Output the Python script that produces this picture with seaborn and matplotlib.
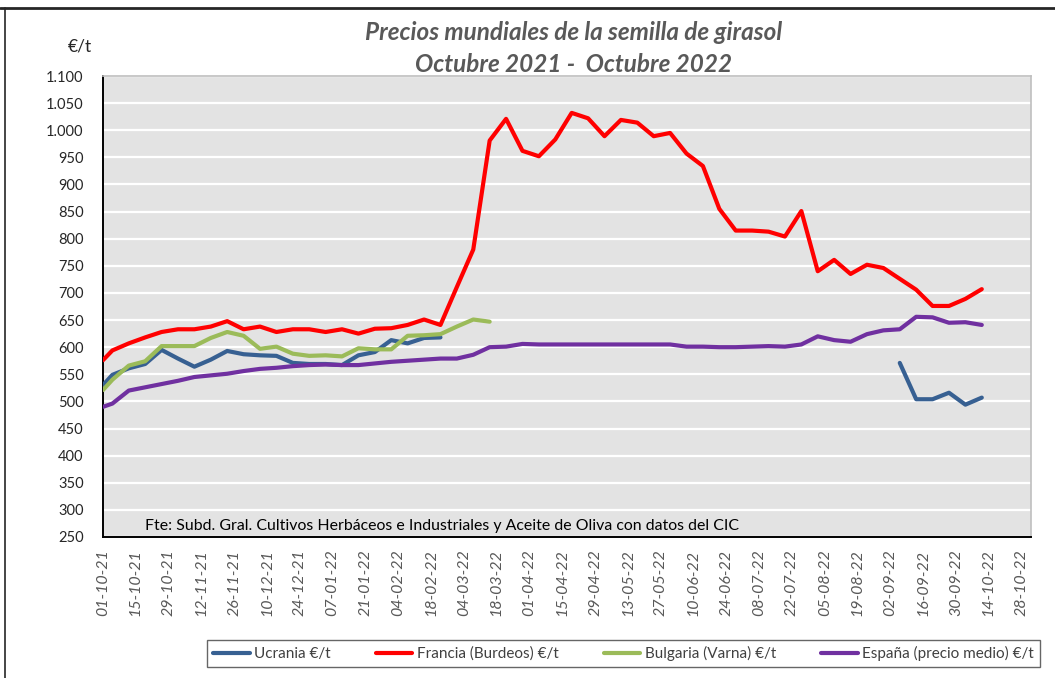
import matplotlib
matplotlib.use("Agg")
import matplotlib.pyplot as plt
from matplotlib.lines import Line2D
import numpy as np
import pandas as pd
import seaborn as sns

# datos semanales (primer punto 01-10-21, luego martes)
fechas = [pd.Timestamp("2021-10-01")] + list(pd.date_range("2021-10-05", periods=54, freq="7D"))

ucrania = [530, 549, 561, 569, 595, 579, 564, 577, 593, 587, 585, 584, 571, 569, 569, 567,
           585, 591, 613, 607, 617, 618] + [np.nan] * 27 + [571, 504, 504, 516, 494, 507]
francia = [576, 594, 607, 618, 628, 633, 633, 638, 648, 633, 638, 628, 633, 633, 628, 633,
           625, 634, 635, 641, 651, 641, 711, 780, 981, 1021, 962, 952, 983, 1032, 1022, 989,
           1019, 1014, 989, 995, 957, 934, 855, 815, 815, 813, 804, 851, 740, 761, 735, 752,
           746, 726, 706, 676, 676, 689, 707]
bulgaria = [521, 540, 566, 574, 602, 602, 602, 617, 628, 621, 597, 601, 588, 584, 585, 583,
            598, 596, 596, 621, 622, 624, 638, 651, 647] + [np.nan] * 30
espana = [490, 496, 520, 526, 532, 538, 545, 548, 551, 556, 560, 562, 565, 567, 568, 567,
          567, 570, 573, 575, 577, 579, 579, 586, 600, 601, 606, 605, 605, 605, 605, 605,
          605, 605, 605, 605, 601, 601, 600, 600, 601, 602, 601, 605, 620, 613, 610, 624,
          631, 633, 656, 655, 645, 646, 641]

series = ["Ucrania €/t", "Francia (Burdeos) €/t", "Bulgaria (Varna) €/t", "España (precio medio) €/t"]
colores = ["#376092", "#FF0000", "#9BBB59", "#7030A0"]
y_ticks = list(range(250, 1101, 50))
x_ticks = pd.date_range("2021-10-01", "2022-10-28", freq="14D")

frames = []
for nombre, valores in zip(series, [ucrania, francia, bulgaria, espana]):
    s = pd.Series(valores, dtype=float)
    df = pd.DataFrame({"fecha": fechas, "precio": s, "serie": nombre, "tramo": s.isna().cumsum()})
    frames.append(df.dropna())
data = pd.concat(frames, ignore_index=True)
data["unidad"] = data["serie"] + "_" + data["tramo"].astype(str)

sns.set_style("white")
plt.rcParams["font.family"] = ["Lato", "DejaVu Sans"]

fig = plt.figure(figsize=(10.55, 6.78), dpi=100)
ax = fig.add_axes([103 / 1055, 1 - 537 / 678, (1031 - 103) / 1055, (537 - 76) / 678])
ax.set_facecolor("#E3E3E3")

sns.lineplot(
    data=data, x="fecha", y="precio", hue="serie", hue_order=series,
    palette=colores, units="unidad", estimator=None, linewidth=3.0,
    legend=False, ax=ax, zorder=3,
)

ax.set_ylim(250, 1100)
ax.set_yticks(y_ticks)
ax.set_yticklabels([f"{v:,}".replace(",", ".") for v in y_ticks], fontsize=10.5, color="#262626")
ax.set_xlim(pd.Timestamp("2021-10-01"), pd.Timestamp("2022-11-01"))
ax.set_xticks(x_ticks)
ax.set_xticklabels([d.strftime("%d-%m-%y") for d in x_ticks], rotation=90,
                   fontsize=11.5, color="#595959", style="italic")
ax.tick_params(axis="y", length=0, pad=14)
ax.tick_params(axis="x", length=5, width=1.2, color="black", direction="out", pad=4)
ax.grid(axis="y", color="white", linewidth=1.6)
ax.set_axisbelow(True)
ax.set_xlabel("")
ax.set_ylabel("")

for lado in ["top", "right"]:
    ax.spines[lado].set_color("#BFBFBF")
    ax.spines[lado].set_linewidth(1.2)
for lado in ["left", "bottom"]:
    ax.spines[lado].set_color("black")
    ax.spines[lado].set_linewidth(1.4)

fig.text(145 / 1055, 1 - 526 / 678,
         "Fte: Subd. Gral. Cultivos Herbáceos e Industriales y Aceite de Oliva con datos del CIC",
         fontsize=11.4, color="black", va="center", ha="left")

fig.text(574 / 1055, 1 - 33 / 678, "Precios mundiales de la semilla de girasol",
         fontsize=17.5, fontweight="bold", style="italic", color="#595959", ha="center", va="center")
fig.text(574 / 1055, 1 - 64 / 678, "Octubre 2021 -  Octubre 2022",
         fontsize=17.5, fontweight="bold", style="italic", color="#595959", ha="center", va="center")
fig.text(80 / 1055, 1 - 47 / 678, "€/t", fontsize=12.5, color="#262626", ha="center", va="center")

handles = [Line2D([0], [0], color=c, linewidth=3.0) for c in colores]
leg = fig.legend(handles, series, loc="lower left", ncol=4, mode="expand",
                 bbox_to_anchor=(207 / 1055, 1 - 667 / 678, (1040 - 207) / 1055, 35 / 678),
                 frameon=True, fancybox=False, edgecolor="#404040", fontsize=11,
                 handlelength=2.4, handletextpad=0.3, borderaxespad=0)
leg.get_frame().set_linewidth(1.0)
for t in leg.get_texts():
    t.set_color("#404040")

# marco exterior del gráfico
fig.add_artist(Line2D([0, 1], [1 - 8 / 678, 1 - 8 / 678], color="#262626", linewidth=2.0,
                      transform=fig.transFigure))
fig.add_artist(Line2D([5 / 1055, 5 / 1055], [0, 1 - 8 / 678], color="#262626", linewidth=1.2,
                      transform=fig.transFigure))

fig.savefig("out.png", dpi=100)
plt.close(fig)
